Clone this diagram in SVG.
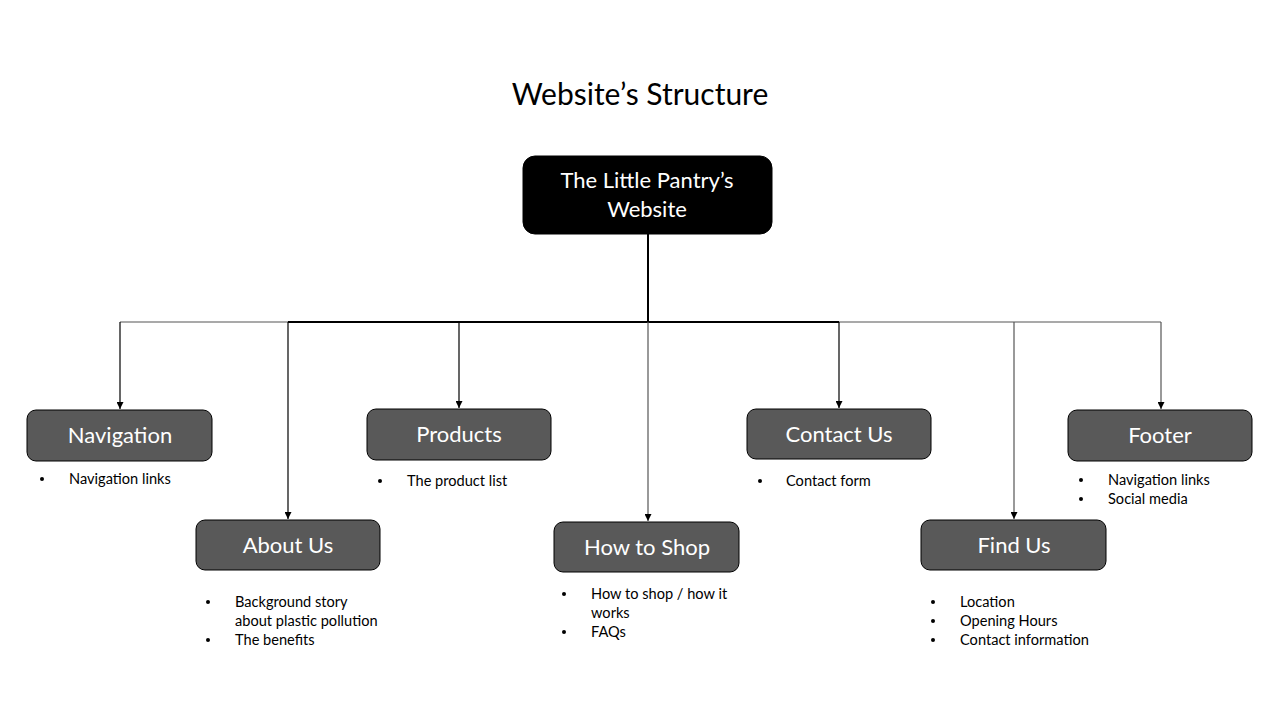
<svg xmlns="http://www.w3.org/2000/svg" width="1280" height="720" viewBox="0 0 1280 720">
<style>
.title{font-family:Lato,"Open Sans",sans-serif;font-size:30px;fill:#000}
.node rect{fill:#595959;stroke:#000;stroke-width:1}
.node text{font-family:Lato,"Open Sans",sans-serif;font-size:22px;fill:#fff;text-anchor:middle}
.root rect{fill:#000}
.bul{font-family:Lato,"Open Sans",sans-serif;font-size:14.6px;fill:#000}
.dot{fill:#000}
.c{fill:none;stroke:#000;stroke-width:1.2}
.g{fill:none;stroke:#555;stroke-width:1.2}
.t{fill:none;stroke:#000;stroke-width:2}
</style>
<defs>
<marker id="ah" viewBox="0 0 10 10" refX="10" refY="5" markerWidth="7" markerHeight="7" markerUnits="userSpaceOnUse" orient="auto">
<path d="M0,0 L10,5 L0,10 z" fill="#000"/>
</marker>
</defs>
<rect width="1280" height="720" fill="#fff"/>
<text class="title" x="640" y="105" text-anchor="middle">Website’s Structure</text>

<g id="connectors">
<path class="t" d="M648,234 V322"/>
<path class="t" d="M288,322 H839"/>
<path class="g" d="M120,322 H288"/>
<path class="g" d="M839,322 H1161"/>
<path class="c" d="M120,322 V409" marker-end="url(#ah)"/>
<path class="c" d="M288,322 V519" marker-end="url(#ah)"/>
<path class="c" d="M459,322 V408" marker-end="url(#ah)"/>
<path class="g" d="M648,322 V521" marker-end="url(#ah)"/>
<path class="c" d="M839,322 V408" marker-end="url(#ah)"/>
<path class="g" d="M1014,322 V519" marker-end="url(#ah)"/>
<path class="g" d="M1161,322 V409" marker-end="url(#ah)"/>
</g>

<g id="root" class="node root">
<rect x="523" y="156" width="249" height="78" rx="12"/>
<text x="647" y="188">The Little Pantry’s</text>
<text x="647" y="217">Website</text>
</g>

<g id="navigation" class="node">
<rect x="27" y="410" width="185" height="51" rx="9"/>
<text x="120" y="443">Navigation</text>
</g>
<g id="products" class="node">
<rect x="367" y="409" width="184" height="51" rx="9"/>
<text x="459" y="442">Products</text>
</g>
<g id="contact" class="node">
<rect x="747" y="409" width="184" height="50" rx="9"/>
<text x="839" y="442">Contact Us</text>
</g>
<g id="footer" class="node">
<rect x="1068" y="410" width="184" height="51" rx="9"/>
<text x="1160" y="443">Footer</text>
</g>
<g id="about" class="node">
<rect x="196" y="520" width="184" height="50" rx="9"/>
<text x="288" y="553">About Us</text>
</g>
<g id="howtoshop" class="node">
<rect x="554" y="522" width="185" height="50" rx="9"/>
<text x="647" y="555">How to Shop</text>
</g>
<g id="findus" class="node">
<rect x="921" y="520" width="185" height="50" rx="9"/>
<text x="1014" y="553">Find Us</text>
</g>

<g id="bullets" class="bul">
<circle class="dot" cx="42" cy="479" r="2"/><text x="69" y="484">Navigation links</text>
<circle class="dot" cx="380" cy="481" r="2"/><text x="407" y="486">The product list</text>
<circle class="dot" cx="760" cy="481" r="2"/><text x="786" y="486">Contact form</text>
<circle class="dot" cx="1081" cy="480" r="2"/><text x="1108" y="485">Navigation links</text>
<circle class="dot" cx="1081" cy="499" r="2"/><text x="1108" y="504">Social media</text>
<circle class="dot" cx="208" cy="602" r="2"/><text x="235" y="607">Background story</text>
<text x="235" y="626">about plastic pollution</text>
<circle class="dot" cx="208" cy="640" r="2"/><text x="235" y="645">The benefits</text>
<circle class="dot" cx="564" cy="594" r="2"/><text x="591" y="599">How to shop / how it</text>
<text x="591" y="618">works</text>
<circle class="dot" cx="564" cy="632" r="2"/><text x="591" y="637">FAQs</text>
<circle class="dot" cx="933" cy="602" r="2"/><text x="960" y="607">Location</text>
<circle class="dot" cx="933" cy="621" r="2"/><text x="960" y="626">Opening Hours</text>
<circle class="dot" cx="933" cy="640" r="2"/><text x="960" y="645">Contact information</text>
</g>
</svg>
